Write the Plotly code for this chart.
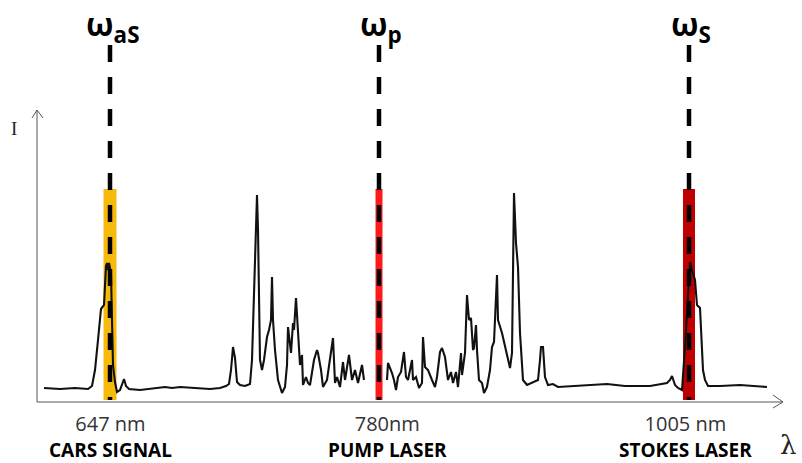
import plotly.graph_objects as go

# ---- data (x: position along wavelength axis, y: intensity, arbitrary units) ----
spec_x = [7, 23, 38, 51, 55, 58, 61, 64, 67, 69, 70, 71, 72, 74, 75, 76, 78, 80, 83, 85, 87, 89, 92,
          103, 118, 128, 135, 143, 158, 173, 183, 189, 192, 194, 196, 198, 200, 203, 208, 213, 215,
          217, 218, 219, 220, 221, 222, 223, 225, 227, 230, 232, 234, 235, 236, 238, 241, 245, 248,
          250, 251, 253, 254, 256, 257, 259, 261, 263, 265, 266, 269, 271, 273, 275, 277, 280, 281,
          284, 286, 290, 293, 296, 298, 300, 303, 306, 308, 312, 315, 318, 321, 325, 327,
          None,
          350, 351, 355, 357, 359, 361, 364, 367, 369, 371, 375, 376, 379, 382, 385, 386, 388, 391,
          395, 398, 400, 403, 405, 408, 411, 414, 416, 419, 421, 424, 425, 428, 430, 432, 434, 436,
          437, 439, 440, 442, 445, 447, 450, 453, 455, 457, 460, 461, 465, 470, 473, 475, 476, 477,
          479, 481, 483, 486, 490, 495, 501, 503, 504, 506, 508, 511, 516, 521, 538, 563, 570, 588,
          613, 630, 633, 635, 638, 641, 645, 648, 651, 653, 655, 658, 660, 663, 666, 668, 671, 683,
          703, 718, 730]
spec_y = [14, 13, 14, 13, 16, 32, 62, 93, 97, 136, 139, 132, 139, 129, 82, 37, 20, 10, 12, 17, 23, 16, 13,
          12, 14, 15, 14, 15, 14, 13, 14, 16, 18, 32, 55, 44, 20, 17, 16, 18, 42,
          112, 147, 172, 207, 172, 82, 42, 32, 42, 65, 72, 82, 125, 82, 52, 22, 9, 15,
          37, 75, 57, 49, 79, 72, 104, 72, 37, 47, 17, 25, 19, 17, 29, 42, 52, 49,
          32, 15, 22, 42, 64, 19, 25, 15, 40, 22, 47, 22, 32, 19, 37, 22,
          None,
          22, 39, 29, 22, 12, 25, 30, 50, 25, 22, 42, 22, 25, 14, 19, 65, 35, 32,
          22, 15, 25, 50, 54, 45, 22, 30, 19, 30, 15, 49, 27, 49, 107, 82, 84, 52,
          54, 77, 52, 22, 19, 9, 15, 32, 55, 60, 127, 82, 69, 49, 34, 49, 139, 209,
          159, 135, 69, 22, 17, 19, 22, 42, 55, 55, 25, 17, 18, 15, 16, 17, 18, 16,
          16, 19, 22, 26, 17, 14, 12, 55, 112, 140, 132, 122, 97, 94, 32, 22, 16, 16,
          17, 16, 15]

laser_pos = [73, 342, 652]
laser_names = ["aS", "p", "S"]
laser_nm = ["647 nm", "780nm", "1005 nm"]
laser_roles = ["CARS SIGNAL", "PUMP LASER", "STOKES LASER"]
laser_colors = ["#F7BA0B", "#FF1A1A", "#C00000"]
bar_widths = [13, 7, 12]
bar_top = 213
line_top = 357
label_x = [73, 350, 648]

# ---- layout geometry ----
X_LEN = 746   # x axis length
Y_LEN = 292   # y axis length

fig = go.Figure()

# coloured laser bands
fig.add_trace(go.Bar(x=laser_pos, y=[bar_top - 2] * 3, base=[2] * 3, width=bar_widths,
                     marker=dict(color=laser_colors, line=dict(width=0)), showlegend=False,
                     hoverinfo="skip"))

# spectrum
fig.add_trace(go.Scatter(x=spec_x, y=spec_y, mode="lines", connectgaps=False,
                         line=dict(color="#111111", width=2.1), showlegend=False))

# dashed laser lines
for xp in laser_pos:
    fig.add_trace(go.Scatter(x=[xp, xp], y=[line_top, 2], mode="lines",
                             line=dict(color="black", width=4.5, dash="17px,15px"),
                             showlegend=False))

shapes = [
    dict(type="line", xref="x", yref="y", x0=0, y0=0, x1=X_LEN, y1=0,
         line=dict(color="#555555", width=1)),
    dict(type="line", xref="x", yref="y", x0=0, y0=0, x1=0, y1=Y_LEN,
         line=dict(color="#555555", width=1)),
    dict(type="path", xref="x", yref="y",
         path=f"M -5 {Y_LEN-8} L 0 {Y_LEN} L 6 {Y_LEN-8}",
         line=dict(color="#555555", width=1)),
    dict(type="path", xref="x", yref="y",
         path=f"M {X_LEN-10} 7 L {X_LEN} 0 L {X_LEN-10} -6",
         line=dict(color="#555555", width=1)),
]

annotations = []
for xp, nm, xl, role, name in zip(laser_pos, laser_nm, label_x, laser_roles, laser_names):
    annotations.append(dict(
        x=xl, y=-34, xref="x", yref="y",
        text=(f"<span style='color:#333333'>{nm}</span><br>"
              f"<span style='font-size:19px;color:black'><b>{role}</b></span>"),
        showarrow=False, borderpad=0,
        font=dict(family="Open Sans", size=20, color="#333333"),
        xanchor="center", yanchor="middle", align="center"))
    annotations.append(dict(x=xp + 2, y=376, xref="x", yref="y",
                            text=f"<b>ω<sub>{name}</sub></b>", showarrow=False,
                            font=dict(family="Open Sans", size=32, color="black"),
                            xanchor="center", yanchor="middle"))

annotations.append(dict(x=-23, y=274, xref="x", yref="y", text="I", showarrow=False,
                        font=dict(family="Liberation Serif", size=19, color="#222222"),
                        xanchor="center", yanchor="middle"))
annotations.append(dict(x=751, y=-43, xref="x", yref="y", text="λ", showarrow=False,
                        font=dict(family="DejaVu Serif", size=26, color="#222222"),
                        xanchor="center", yanchor="middle"))

fig.update_layout(
    width=802, height=463,
    margin=dict(l=0, r=0, t=0, b=0),
    paper_bgcolor="white", plot_bgcolor="white",
    xaxis=dict(range=[-37, 765], visible=False, fixedrange=True),
    yaxis=dict(range=[-61, 402], visible=False, fixedrange=True),
    barmode="overlay",
    shapes=shapes,
    annotations=annotations,
    showlegend=False,
)

fig.write_html("out.html")
